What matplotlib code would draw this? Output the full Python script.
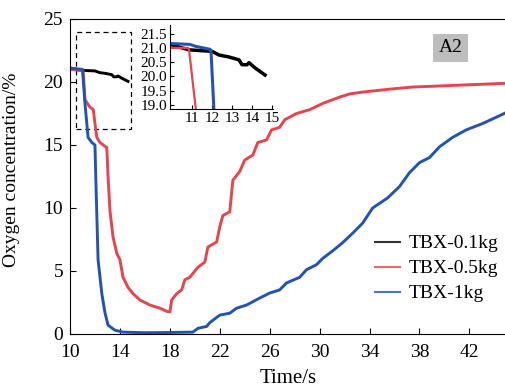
import numpy as np
import matplotlib
matplotlib.use('Agg')
import matplotlib.pyplot as plt
from matplotlib.patches import Rectangle

plt.rcParams['font.family'] = ['Liberation Serif', 'DejaVu Serif']

# TBX-0.1kg
t_01 = [10, 10.85, 11.5, 12.0, 12.35, 12.85, 13.35, 13.5, 13.75, 13.85, 14.15, 14.65]
o_01 = [21.1, 20.93, 20.9, 20.88, 20.75, 20.68, 20.58, 20.41, 20.41, 20.48, 20.3, 20.05]

# TBX-0.5kg
t_05 = [10, 11.05, 11.2, 11.6, 11.87, 12.0, 12.15, 12.4, 12.8, 12.95, 13.05, 13.2, 13.45,
        13.75, 14.0, 14.25, 14.65, 15.05, 15.6, 16.4, 17.2, 17.75, 18.0, 18.15, 18.55,
        18.95, 19.2, 19.6, 19.85, 20.25, 20.8, 21.05, 21.75, 22.0, 22.25, 22.8, 23.05,
        23.6, 24.0, 24.65, 25.05, 25.75, 26.15, 26.8, 27.2, 28.15, 29.2, 30.25, 31.6,
        32.4, 33.45, 35.5, 37.45, 39.5, 41.45, 43.0, 45]
o_05 = [21.0, 20.9, 18.6, 18.0, 17.8, 16.7, 15.6, 15.2, 14.9, 14.8, 12.5, 9.8, 7.7,
        6.4, 5.9, 4.5, 3.7, 3.2, 2.7, 2.3, 2.05, 1.8, 1.75, 2.7, 3.2,
        3.5, 4.3, 4.5, 4.8, 5.3, 5.7, 6.9, 7.3, 8.5, 9.4, 9.7, 12.2,
        12.9, 13.8, 14.2, 15.2, 15.4, 16.2, 16.4, 17.0, 17.5, 17.8, 18.3, 18.8,
        19.05, 19.2, 19.42, 19.6, 19.68, 19.76, 19.82, 19.9]

# TBX-1kg
t_1 = [10, 11.0, 11.2, 11.45, 11.75, 12.0, 12.1, 12.25, 12.55, 12.8, 13.05, 13.6, 14.25,
       16.0, 18.0, 19.85, 20.25, 20.95, 21.2, 22.0, 22.8, 23.35, 24.15, 25.2, 26.0,
       26.8, 27.35, 28.4, 28.95, 29.75, 30.25, 31.05, 31.85, 32.65, 33.45, 34.25,
       35.45, 36.4, 37.2, 38.0, 38.8, 39.6, 40.65, 41.75, 43.05, 44.15, 45]
o_1 = [21.1, 21.0, 18.3, 15.6, 15.2, 15.0, 11.2, 5.9, 3.2, 1.7, 0.7, 0.3, 0.15,
       0.1, 0.12, 0.15, 0.45, 0.6, 0.9, 1.5, 1.65, 2.05, 2.3, 2.85, 3.25,
       3.5, 4.05, 4.5, 5.1, 5.5, 6.0, 6.6, 7.25, 8.0, 8.8, 10.0,
       10.8, 11.7, 12.8, 13.6, 14.0, 14.85, 15.6, 16.2, 16.7, 17.2, 17.6]

# inset close-up (10-15 s)
t_05_in = [10, 10.8, 10.85, 11.25]
o_05_in = [21.0, 21.0, 20.95, 18.5]
t_1_in = [10, 10.9, 11.2, 11.9, 11.95, 12.12]
o_1_in = [21.15, 21.12, 21.05, 20.95, 20.9, 18.5]

black = '#000000'
red = '#e8444e'
blue = '#2353b0'

fig = plt.figure(figsize=(5.05, 3.9), dpi=100)
ax = fig.add_axes([0.1386, 0.1436, 0.865, 0.8077])

ax.plot(t_01, o_01, color=black, lw=2.1, label='TBX-0.1kg')
ax.plot(t_05, o_05, color=red, lw=2.1, label='TBX-0.5kg')
ax.plot(t_1, o_1, color=blue, lw=2.1, label='TBX-1kg')

ax.set_xlim(10, 45)
ax.set_ylim(0, 25)
ax.set_xticks(np.arange(10, 43, 4))
ax.set_yticks(np.arange(0, 26, 5))
ax.tick_params(direction='in', length=4, labelsize=14)
ax.tick_params(axis='x', pad=7)
ax.tick_params(axis='y', pad=5)
ax.set_xlabel('Time/s', fontsize=15, labelpad=6)
ax.set_ylabel('Oxygen concentration/%', fontsize=14)
ax.yaxis.set_label_coords(-0.115, 0.52)

ax.add_patch(Rectangle((10.5, 16.3), 4.4, 7.7, fill=False, ls=(0, (4, 3)),
                       lw=0.9, edgecolor='black'))

ax.text(40.5, 22.7, 'A2', fontsize=14, ha='center', va='center',
        bbox=dict(boxstyle='square,pad=0.3', facecolor='#bdbdbd', edgecolor='none'))

leg = ax.legend(loc='lower right', bbox_to_anchor=(1.02, 0.045), frameon=False,
                fontsize=14, handlelength=1.25, handletextpad=0.45, labelspacing=0.38)
for h in leg.get_lines():
    h.set_linewidth(1.5)
    h.set_alpha(0.8)

ins = fig.add_axes([0.3366, 0.7205, 0.204, 0.2154])
ins.plot(t_01, o_01, color=black, lw=2.5)
ins.plot(t_05_in, o_05_in, color=red, lw=1.6)
ins.plot(t_1_in, o_1_in, color=blue, lw=2.2)
ins.set_xlim(9.9, 15.05)
ins.set_ylim(18.86, 21.8)
ins.set_xticks([11, 12, 13, 14, 15])
ins.set_yticks(np.arange(19.0, 21.6, 0.5))
ins.yaxis.set_major_formatter(matplotlib.ticker.FormatStrFormatter('%.1f'))
ins.spines['top'].set_visible(False)
ins.spines['right'].set_visible(False)
ins.tick_params(direction='in', length=3, labelsize=11, pad=2)
ins.patch.set_alpha(0)

fig.savefig('out.png', dpi=100)
